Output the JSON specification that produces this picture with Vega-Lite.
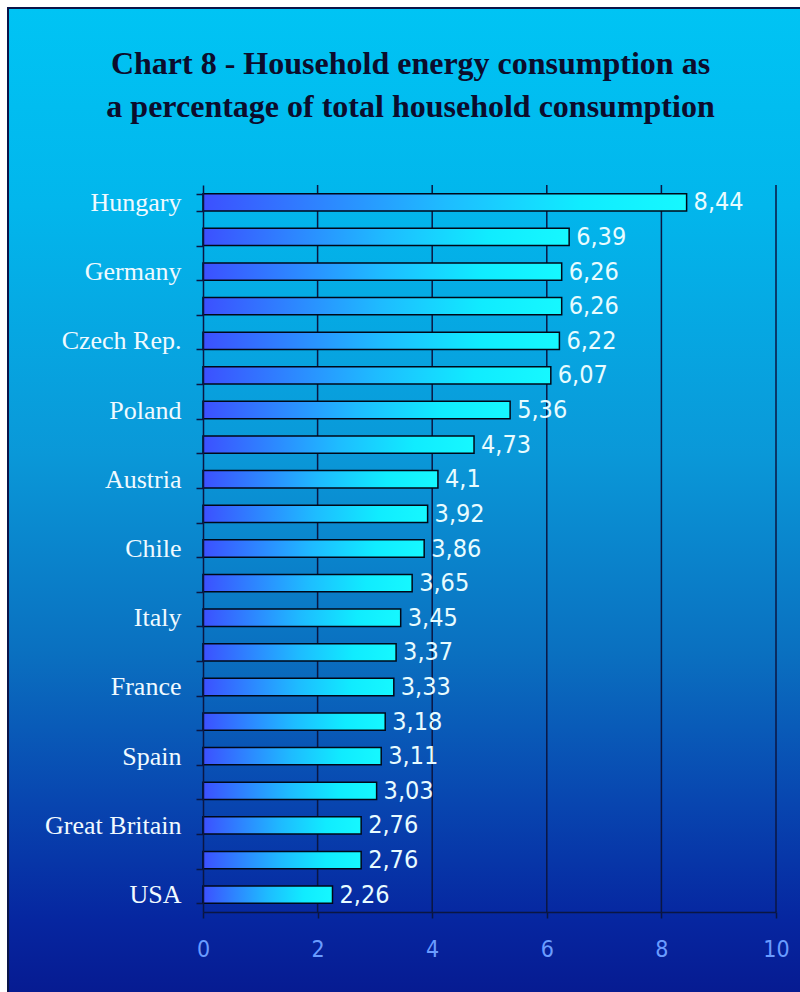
{
  "$schema": "https://vega.github.io/schema/vega-lite/v6.json",
  "autosize": "none",
  "width": 573,
  "height": 727,
  "padding": {"left": 203, "top": 185, "right": 24, "bottom": 80},
  "background": "#ffffff",
  "title": {
    "text": ["Chart 8 - Household energy consumption as", "a percentage of total household consumption"],
    "font": "Liberation Serif",
    "fontSize": 32,
    "fontWeight": "bold",
    "color": "#0c0c2c",
    "lineHeight": 43,
    "anchor": "middle",
    "frame": "group",
    "dx": -79,
    "offset": 0,
    "dy": 117,
    "zindex": 2
  },
  "config": {
    "view": {"stroke": null},
    "locale": {"number": {"decimal": ",", "thousands": ".", "grouping": [3], "currency": ["", " €"]}}
  },
  "datasets": {
    "bars": [
      {"country": "Hungary", "value": 8.44},
      {"country": "#2", "value": 6.39},
      {"country": "Germany", "value": 6.26},
      {"country": "#4", "value": 6.26},
      {"country": "Czech Rep.", "value": 6.22},
      {"country": "#6", "value": 6.07},
      {"country": "Poland", "value": 5.36},
      {"country": "#8", "value": 4.73},
      {"country": "Austria", "value": 4.1},
      {"country": "#10", "value": 3.92},
      {"country": "Chile", "value": 3.86},
      {"country": "#12", "value": 3.65},
      {"country": "Italy", "value": 3.45},
      {"country": "#14", "value": 3.37},
      {"country": "France", "value": 3.33},
      {"country": "#16", "value": 3.18},
      {"country": "Spain", "value": 3.11},
      {"country": "#18", "value": 3.03},
      {"country": "Great Britain", "value": 2.76},
      {"country": "#20", "value": 2.76},
      {"country": "USA", "value": 2.26}
    ],
    "grid": [{"tick": 2}, {"tick": 4}, {"tick": 6}, {"tick": 8}, {"tick": 10}]
  },
  "resolve": {"scale": {"y": "independent"}},
  "layer": [
    {
      "data": {"values": [{}]},
      "mark": {
        "type": "rect",
        "clip": false,
        "stroke": "#0a1448",
        "strokeWidth": 2,
        "fill": {
          "gradient": "linear",
          "x1": 0, "y1": 0, "x2": 0, "y2": 1,
          "stops": [
            {"offset": 0, "color": "#00c4f4"},
            {"offset": 0.2, "color": "#02b6ec"},
            {"offset": 0.45, "color": "#0a98d8"},
            {"offset": 0.65, "color": "#0a70c0"},
            {"offset": 0.8, "color": "#0846b0"},
            {"offset": 0.92, "color": "#0626a0"},
            {"offset": 1, "color": "#061a90"}
          ]
        }
      },
      "encoding": {
        "x": {"datum": -3.403, "type": "quantitative", "scale": {"domain": [0, 10], "nice": false}},
        "x2": {"datum": 10.5},
        "y": {"datum": 1.2435, "type": "quantitative", "scale": {"domain": [0, 1], "nice": false, "zero": false}, "axis": null},
        "y2": {"datum": -0.12}
      }
    },
    {
      "layer": [
        {
          "data": {"name": "grid"},
          "mark": {"type": "rule", "color": "#0b1642", "strokeWidth": 1.5},
          "encoding": {
            "x": {"field": "tick", "type": "quantitative", "scale": {"domain": [0, 10], "nice": false}}
          }
        },
        {
          "data": {"name": "bars"},
          "mark": {
            "type": "bar",
            "stroke": "#000818",
            "strokeWidth": 1.5,
            "fill": {
              "gradient": "linear",
              "x1": 0, "y1": 0, "x2": 1, "y2": 0,
              "stops": [
                {"offset": 0, "color": "#3c50ff"},
                {"offset": 0.5, "color": "#1ebcff"},
                {"offset": 0.78, "color": "#10ecff"},
                {"offset": 1, "color": "#16f8ff"}
              ]
            }
          },
          "encoding": {
            "x": {
              "field": "value",
              "type": "quantitative",
              "scale": {"domain": [0, 10], "nice": false},
              "axis": {
                "title": null,
                "values": [0, 2, 4, 6, 8, 10],
                "format": "d",
                "grid": false,
                "zindex": 1,
                "domainColor": "#0b1642",
                "domainWidth": 1.5,
                "tickColor": "#0b1642",
                "tickWidth": 1.5,
                "tickSize": 6,
                "labelColor": "#6a9cff",
                "labelFont": "DejaVu Sans Condensed",
                "labelFontSize": 23,
                "labelPadding": 20,
                "labelFlush": false
              }
            },
            "y": {
              "field": "country",
              "type": "nominal",
              "sort": null,
              "scale": {"paddingInner": 0.5, "paddingOuter": 0.25},
              "axis": {
                "title": null,
                "orient": "left",
                "zindex": 1,
                "tickBand": "extent",
                "tickSize": 7,
                "tickColor": "#0b1642",
                "tickWidth": 1.5,
                "domainColor": "#0b1642",
                "domainWidth": 1.5,
                "labelFont": "Liberation Serif",
                "labelFontSize": 26,
                "labelColor": "#f0faff",
                "labelPadding": 15,
                "labelExpr": "substring(datum.label, 0, 1) == '#' ? '' : datum.label"
              }
            }
          }
        },
        {
          "data": {"name": "bars"},
          "mark": {
            "type": "text",
            "align": "left",
            "baseline": "middle",
            "dx": 7,
            "font": "DejaVu Sans Condensed",
            "fontSize": 25,
            "color": "#e8fcff"
          },
          "encoding": {
            "x": {"field": "value", "type": "quantitative", "scale": {"domain": [0, 10], "nice": false}},
            "y": {"field": "country", "type": "nominal", "sort": null},
            "text": {"field": "value", "type": "quantitative", "format": ".3~g"}
          }
        }
      ]
    }
  ]
}
